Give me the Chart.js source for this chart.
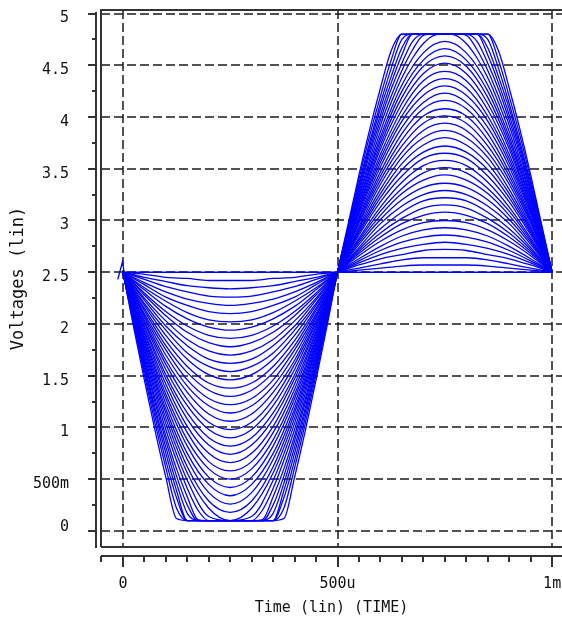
<!DOCTYPE html>
<html>
<head>
<meta charset="utf-8">
<script src="https://cdn.jsdelivr.net/npm/chart.js@4.4.0/dist/chart.umd.min.js"></script>
<style>
  html, body { margin: 0; padding: 0; background: #fff; }
  #wrap { width: 562px; height: 620px; }
</style>
</head>
<body>
<div id="wrap"><canvas id="waveChart" width="562" height="620"></canvas></div>
<script>
// time is in microseconds, voltages in volts
const xTickValues = [0, 500, 1000];
const xTickLabels = ['0', '500u', '1m'];
const yTickValues = [0, 0.5, 1, 1.5, 2, 2.5, 3, 3.5, 4, 4.5, 5];
const yTickLabels = ['0', '500m', '1', '1.5', '2', '2.5', '3', '3.5', '4', '4.5', '5'];

const timeCoarse = [0, 50, 100, 150, 200, 250, 300, 350, 400, 450, 500,
  550, 600, 650, 700, 750, 800, 850, 900, 950, 1000];
const timeFine = [0, 25, 50, 75, 100, 125, 150, 175, 200, 225, 250, 275, 300, 325, 350, 375, 400, 425, 450, 475, 500,
  525, 550, 575, 600, 625, 650, 675, 700, 725, 750, 775, 800, 825, 850, 875, 900, 925, 950, 975, 1000];

// idle trace and the little start-up glitch
const flatTime = [0, 1000];
const flatVolts = [2.5, 2.5];
const blipTime = [-12, -1, 3];
const blipVolts = [2.43, 2.6, 2.5];

// traces that stay inside the rails (read on the 50u grid)
const sweep01 = [2.5,2.48,2.45,2.44,2.42,2.42,2.42,2.44,2.45,2.48,2.5,2.52,2.54,2.56,2.57,2.57,2.57,2.56,2.54,2.52,2.5];
const sweep02 = [2.5,2.45,2.41,2.37,2.35,2.34,2.35,2.37,2.41,2.45,2.5,2.54,2.58,2.62,2.64,2.64,2.64,2.62,2.58,2.54,2.5];
const sweep03 = [2.5,2.43,2.36,2.31,2.27,2.26,2.27,2.31,2.36,2.43,2.5,2.57,2.63,2.67,2.71,2.72,2.71,2.67,2.63,2.57,2.5];
const sweep04 = [2.5,2.40,2.31,2.24,2.20,2.18,2.20,2.24,2.31,2.40,2.5,2.59,2.67,2.73,2.77,2.79,2.77,2.73,2.67,2.59,2.5];
const sweep05 = [2.5,2.38,2.26,2.18,2.12,2.10,2.12,2.18,2.26,2.38,2.5,2.61,2.71,2.79,2.84,2.86,2.84,2.79,2.71,2.61,2.5];
const sweep06 = [2.5,2.35,2.22,2.11,2.04,2.02,2.04,2.11,2.22,2.35,2.5,2.63,2.75,2.85,2.91,2.93,2.91,2.85,2.75,2.63,2.5];
const sweep07 = [2.5,2.33,2.17,2.05,1.97,1.94,1.97,2.05,2.17,2.33,2.5,2.66,2.80,2.91,2.98,3.00,2.98,2.91,2.80,2.66,2.5];
const sweep08 = [2.5,2.30,2.12,1.98,1.89,1.86,1.89,1.98,2.12,2.30,2.5,2.68,2.84,2.97,3.05,3.08,3.05,2.97,2.84,2.68,2.5];
const sweep09 = [2.5,2.28,2.08,1.92,1.82,1.78,1.82,1.92,2.08,2.28,2.5,2.70,2.88,3.02,3.12,3.15,3.12,3.02,2.88,2.70,2.5];
const sweep10 = [2.5,2.25,2.03,1.85,1.74,1.70,1.74,1.85,2.03,2.25,2.5,2.72,2.92,3.08,3.19,3.22,3.19,3.08,2.92,2.72,2.5];
const sweep11 = [2.5,2.23,1.98,1.79,1.66,1.62,1.66,1.79,1.98,2.23,2.5,2.74,2.97,3.14,3.25,3.29,3.25,3.14,2.97,2.74,2.5];
const sweep12 = [2.5,2.20,1.94,1.72,1.59,1.54,1.59,1.72,1.94,2.20,2.5,2.77,3.01,3.20,3.32,3.36,3.32,3.20,3.01,2.77,2.5];
const sweep13 = [2.5,2.18,1.89,1.66,1.51,1.46,1.51,1.66,1.89,2.18,2.5,2.79,3.05,3.26,3.39,3.44,3.39,3.26,3.05,2.79,2.5];
const sweep14 = [2.5,2.15,1.84,1.59,1.43,1.38,1.43,1.59,1.84,2.15,2.5,2.81,3.09,3.31,3.46,3.51,3.46,3.31,3.09,2.81,2.5];
const sweep15 = [2.5,2.13,1.79,1.53,1.36,1.30,1.36,1.53,1.79,2.13,2.5,2.83,3.13,3.37,3.53,3.58,3.53,3.37,3.13,2.83,2.5];
const sweep16 = [2.5,2.10,1.75,1.46,1.28,1.22,1.28,1.46,1.75,2.10,2.5,2.86,3.18,3.43,3.60,3.65,3.60,3.43,3.18,2.86,2.5];
const sweep17 = [2.5,2.08,1.70,1.40,1.21,1.14,1.21,1.40,1.70,2.08,2.5,2.88,3.22,3.49,3.66,3.72,3.66,3.49,3.22,2.88,2.5];
const sweep18 = [2.5,2.06,1.65,1.34,1.13,1.06,1.13,1.34,1.65,2.06,2.5,2.90,3.26,3.55,3.73,3.80,3.73,3.55,3.26,2.90,2.5];
const sweep19 = [2.5,2.03,1.61,1.27,1.05,0.98,1.05,1.27,1.61,2.03,2.5,2.92,3.30,3.61,3.80,3.87,3.80,3.61,3.30,2.92,2.5];
const sweep20 = [2.5,2.01,1.56,1.21,0.98,0.90,0.98,1.21,1.56,2.01,2.5,2.94,3.35,3.66,3.87,3.94,3.87,3.66,3.35,2.94,2.5];
const sweep21 = [2.5,1.98,1.51,1.14,0.90,0.82,0.90,1.14,1.51,1.98,2.5,2.97,3.39,3.72,3.94,4.01,3.94,3.72,3.39,2.97,2.5];
const sweep22 = [2.5,1.96,1.47,1.08,0.83,0.74,0.83,1.08,1.47,1.96,2.5,2.99,3.43,3.78,4.01,4.08,4.01,3.78,3.43,2.99,2.5];
const sweep23 = [2.5,1.93,1.42,1.01,0.75,0.66,0.75,1.01,1.42,1.93,2.5,3.01,3.47,3.84,4.08,4.16,4.08,3.84,3.47,3.01,2.5];
const sweep24 = [2.5,1.91,1.37,0.95,0.67,0.58,0.67,0.95,1.37,1.91,2.5,3.03,3.52,3.90,4.14,4.23,4.14,3.90,3.52,3.03,2.5];
const sweep25 = [2.5,1.88,1.32,0.88,0.60,0.50,0.60,0.88,1.32,1.88,2.5,3.06,3.56,3.96,4.21,4.30,4.21,3.96,3.56,3.06,2.5];
const sweep26 = [2.5,1.86,1.28,0.82,0.52,0.42,0.52,0.82,1.28,1.86,2.5,3.08,3.60,4.01,4.28,4.37,4.28,4.01,3.60,3.08,2.5];
const sweep27 = [2.5,1.83,1.23,0.75,0.45,0.34,0.45,0.75,1.23,1.83,2.5,3.10,3.64,4.07,4.35,4.44,4.35,4.07,3.64,3.10,2.5];
const sweep28 = [2.5,1.81,1.18,0.69,0.37,0.26,0.37,0.69,1.18,1.81,2.5,3.12,3.69,4.13,4.42,4.52,4.42,4.13,3.69,3.12,2.5];
const sweep29 = [2.5,1.78,1.14,0.62,0.29,0.18,0.29,0.62,1.14,1.78,2.5,3.14,3.73,4.19,4.49,4.59,4.49,4.19,3.73,3.14,2.5];
const sweep30 = [2.5,1.76,1.09,0.56,0.22,0.10,0.22,0.56,1.09,1.76,2.5,3.17,3.77,4.25,4.55,4.66,4.55,4.25,3.77,3.17,2.5];
const sweep31 = [2.5,1.73,1.04,0.49,0.14,0.10,0.14,0.49,1.04,1.73,2.5,3.19,3.81,4.31,4.62,4.73,4.62,4.31,3.81,3.19,2.5];

// traces that hit the 0.1 V / 4.8 V rails (read on the 25u grid)
const clip01 = [2.5,2.10,1.70,1.33,0.98,0.68,0.41,0.20,0.10,0.10,0.10,0.10,0.10,0.20,0.41,0.68,0.98,1.33,1.70,2.10,2.5,
  2.86,3.22,3.55,3.86,4.14,4.38,4.57,4.71,4.79,4.80,4.79,4.71,4.57,4.38,4.14,3.86,3.55,3.22,2.86,2.5];
const clip02 = [2.5,2.08,1.67,1.28,0.92,0.60,0.33,0.11,0.10,0.10,0.10,0.10,0.10,0.11,0.33,0.60,0.92,1.28,1.67,2.08,2.5,
  2.88,3.24,3.59,3.92,4.20,4.45,4.65,4.79,4.80,4.80,4.80,4.79,4.65,4.45,4.20,3.92,3.59,3.24,2.88,2.5];
const clip03 = [2.5,2.07,1.64,1.24,0.87,0.53,0.25,0.10,0.10,0.10,0.10,0.10,0.10,0.10,0.25,0.53,0.87,1.24,1.64,2.07,2.5,
  2.89,3.27,3.64,3.97,4.27,4.52,4.73,4.80,4.80,4.80,4.80,4.80,4.73,4.52,4.27,3.97,3.64,3.27,2.89,2.5];
const clip04 = [2.5,2.05,1.61,1.19,0.81,0.46,0.17,0.10,0.10,0.10,0.10,0.10,0.10,0.10,0.17,0.46,0.81,1.19,1.61,2.05,2.5,
  2.91,3.30,3.68,4.02,4.33,4.60,4.80,4.80,4.80,4.80,4.80,4.80,4.80,4.60,4.33,4.02,3.68,3.30,2.91,2.5];
const clip05 = [2.5,2.03,1.58,1.15,0.75,0.39,0.10,0.10,0.10,0.10,0.10,0.10,0.10,0.10,0.10,0.39,0.75,1.15,1.58,2.03,2.5,
  2.92,3.33,3.72,4.08,4.39,4.67,4.80,4.80,4.80,4.80,4.80,4.80,4.80,4.67,4.39,4.08,3.72,3.33,2.92,2.5];
const clip06 = [2.5,2.02,1.55,1.10,0.68,0.32,0.10,0.10,0.10,0.10,0.10,0.10,0.10,0.10,0.10,0.32,0.68,1.10,1.55,2.02,2.5,
  2.93,3.36,3.76,4.13,4.47,4.75,4.80,4.80,4.80,4.80,4.80,4.80,4.80,4.75,4.47,4.13,3.76,3.36,2.93,2.5];
const clip07 = [2.5,2.00,1.51,1.04,0.61,0.22,0.10,0.10,0.10,0.10,0.10,0.10,0.10,0.10,0.10,0.22,0.61,1.04,1.51,2.00,2.5,
  2.95,3.40,3.82,4.20,4.55,4.80,4.80,4.80,4.80,4.80,4.80,4.80,4.80,4.80,4.55,4.20,3.82,3.40,2.95,2.5];
const clip08 = [2.5,1.97,1.46,0.97,0.52,0.12,0.10,0.10,0.10,0.10,0.10,0.10,0.10,0.10,0.10,0.12,0.52,0.97,1.46,1.97,2.5,
  2.97,3.44,3.88,4.28,4.64,4.80,4.80,4.80,4.80,4.80,4.80,4.80,4.80,4.80,4.64,4.28,3.88,3.44,2.97,2.5];

const coarseTraces = [sweep01, sweep02, sweep03, sweep04, sweep05, sweep06, sweep07, sweep08, sweep09, sweep10,
  sweep11, sweep12, sweep13, sweep14, sweep15, sweep16, sweep17, sweep18, sweep19, sweep20,
  sweep21, sweep22, sweep23, sweep24, sweep25, sweep26, sweep27, sweep28, sweep29, sweep30, sweep31];
const fineTraces = [clip01, clip02, clip03, clip04, clip05, clip06, clip07, clip08];

const traceBlue = '#0000ff';
const frameColor = '#333333';
const monoFont = "'DejaVu Sans Mono', 'Liberation Mono', monospace";

function toPoints(times, volts) {
  return times.map((t, i) => ({ x: t, y: volts[i] }));
}

// dashed grid under the traces, frame and minor ticks on top (old spice-viewer look)
const spiceFrame = {
  id: 'spiceFrame',
  beforeDatasetsDraw(chart) {
    const { ctx, chartArea: area, scales: { x, y } } = chart;
    ctx.save();
    ctx.strokeStyle = '#1a1a1a';
    ctx.lineWidth = 1.5;
    ctx.setLineDash([9, 4]);
    ctx.beginPath();
    yTickValues.forEach(v => {
      const py = Math.round(y.getPixelForValue(v));
      ctx.moveTo(area.left, py);
      ctx.lineTo(area.right, py);
    });
    xTickValues.forEach(v => {
      const px = Math.round(x.getPixelForValue(v));
      ctx.moveTo(px, area.top);
      ctx.lineTo(px, area.bottom);
    });
    ctx.stroke();
    ctx.restore();
  },
  afterDatasetsDraw(chart) {
    const { ctx, chartArea: area, scales: { x, y } } = chart;
    ctx.save();
    ctx.strokeStyle = frameColor;
    ctx.lineWidth = 2;
    ctx.beginPath();
    ctx.moveTo(area.left, area.bottom);
    ctx.lineTo(area.left, area.top);
    ctx.lineTo(area.right, area.top);
    ctx.moveTo(area.left, area.bottom);
    ctx.lineTo(area.right, area.bottom);

    const axisX = area.left - 5;
    const axisY = area.bottom + 9;
    ctx.moveTo(axisX, Math.round(y.getPixelForValue(5)) - 2);
    ctx.lineTo(axisX, area.bottom + 1);
    ctx.moveTo(area.left, axisY);
    ctx.lineTo(area.right, axisY);

    for (let i = 0; i <= 20; i++) {
      const py = Math.round(y.getPixelForValue(i * 0.25));
      ctx.moveTo(axisX, py);
      ctx.lineTo(axisX - (i % 2 === 0 ? 8 : 4), py);
    }
    for (let i = -1; i <= 20; i++) {
      const px = Math.round(x.getPixelForValue(i * 50));
      ctx.moveTo(px, axisY);
      ctx.lineTo(px, axisY + (i % 10 === 0 ? 11 : 6));
    }
    ctx.stroke();
    ctx.restore();
  }
};

const datasets = [
  { data: toPoints(flatTime, flatVolts), borderWidth: 1.6 },
  { data: toPoints(blipTime, blipVolts), cubicInterpolationMode: 'default', tension: 0 },
  ...coarseTraces.map(v => ({ data: toPoints(timeCoarse, v) })),
  ...fineTraces.map(v => ({ data: toPoints(timeFine, v) }))
];

new Chart(document.getElementById('waveChart'), {
  type: 'line',
  data: { datasets: datasets },
  options: {
    responsive: false,
    animation: false,
    events: [],
    layout: { padding: { left: 0, right: 0, top: 10, bottom: 0 } },
    plugins: { legend: { display: false }, tooltip: { enabled: false } },
    elements: {
      point: { radius: 0 },
      line: { borderColor: traceBlue, borderWidth: 1.3, fill: false, cubicInterpolationMode: 'monotone' }
    },
    scales: {
      x: {
        type: 'linear',
        min: -51,
        max: 1023,
        afterBuildTicks: s => { s.ticks = xTickValues.map(v => ({ value: v })); },
        afterFit: s => { s.height = 73; s.paddingLeft = 0; s.paddingRight = 0; },
        grid: { display: false },
        border: { display: false },
        ticks: {
          autoSkip: false,
          maxRotation: 0,
          padding: 20,
          color: '#111',
          font: { family: monoFont, size: 15 },
          callback: v => xTickLabels[xTickValues.indexOf(v)]
        },
        title: {
          display: true,
          text: 'Time (lin) (TIME)',
          color: '#111',
          font: { family: monoFont, size: 15 },
          padding: { top: 0, bottom: 3 }
        }
      },
      y: {
        type: 'linear',
        min: -0.155,
        max: 5.034,
        afterBuildTicks: s => { s.ticks = yTickValues.map(v => ({ value: v })); },
        afterFit: s => { s.width = 101; s.paddingTop = 0; s.paddingBottom = 0; },
        grid: { display: false },
        border: { display: false },
        ticks: {
          autoSkip: false,
          padding: 24,
          labelOffset: 5,
          color: '#111',
          font: { family: monoFont, size: 15 },
          callback: v => {
            const label = yTickLabels[yTickValues.indexOf(v)];
            return v === 0 ? [label, ''] : label;
          }
        },
        title: {
          display: true,
          text: 'Voltages (lin)',
          color: '#111',
          font: { family: monoFont, size: 17 },
          padding: { top: 8, bottom: 0 }
        }
      }
    }
  },
  plugins: [spiceFrame]
});
</script>
</body>
</html>
